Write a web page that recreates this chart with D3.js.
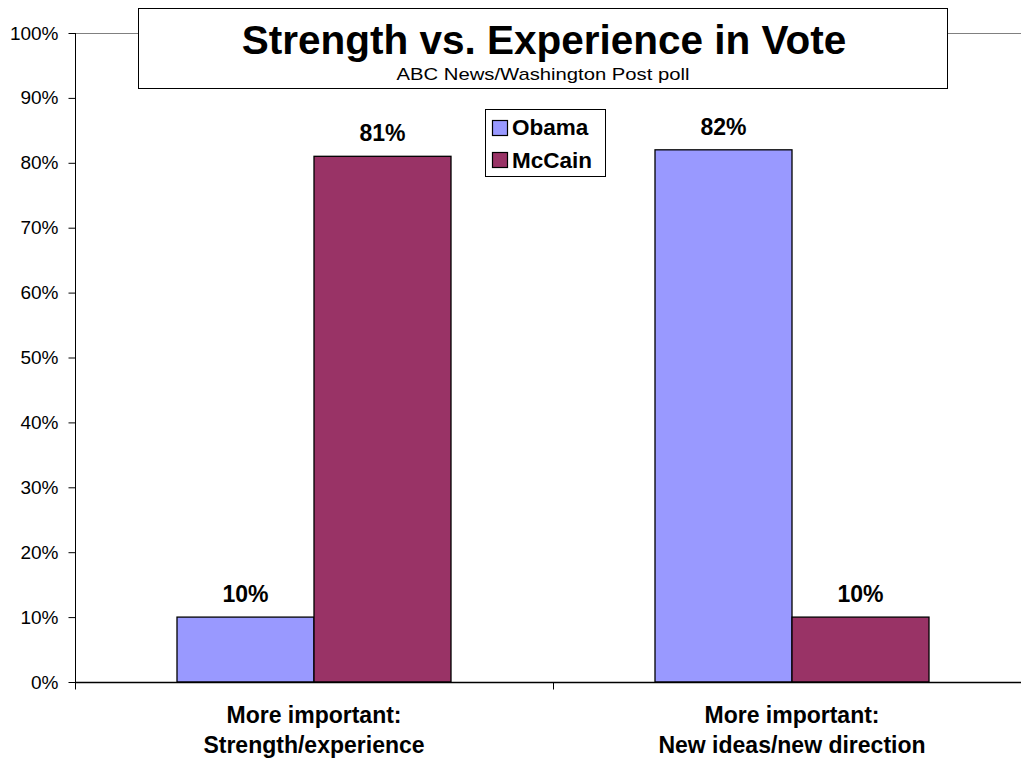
<!DOCTYPE html>
<html><head><meta charset="utf-8">
<script src="https://cdn.jsdelivr.net/npm/d3@7/dist/d3.min.js"></script>
<style>body{margin:0;background:#fff;}svg{display:block;font-family:Arial,"Liberation Sans",sans-serif;}</style>
</head><body><svg id="c" width="1021" height="759"></svg>
<script>
const categories = [["More important:", "Strength/experience"], ["More important:", "New ideas/new direction"]];
const seriesNames = ["Obama", "McCain"];
const obamaValues = [10, 82];
const mccainValues = [81, 10];
const seriesColors = ["#9999FF", "#993366"];
const yTicks = [0,10,20,30,40,50,60,70,80,90,100];
const titleText = "Strength vs. Experience in Vote";
const subtitleText = "ABC News/Washington Post poll";

(function(){
const svg = d3.select("#c");
const pL = 75, pR = 1031, pT = 33, pB = 682;
const y = d3.scaleLinear().domain([0,100]).range([pB, pT]);
const x0 = d3.scaleBand().domain(d3.range(categories.length)).range([pL, pR]).paddingInner(0).paddingOuter(0);
const barW = 137;
const series = [obamaValues, mccainValues];

// top plot border
svg.append("line").attr("x1", pL).attr("x2", 1021).attr("y1", pT+0.5).attr("y2", pT+0.5).attr("stroke", "#808080").attr("stroke-width", 1);

// bars
series.forEach((vals, si) => {
  svg.append("g").selectAll("rect").data(vals).join("rect")
    .attr("x", (d,i) => x0(i) + x0.bandwidth()/2 - barW + si*barW)
    .attr("y", d => y(d))
    .attr("width", barW)
    .attr("height", d => y(0) - y(d))
    .attr("fill", seriesColors[si])
    .attr("stroke", "#000").attr("stroke-width", 1.3);
  svg.append("g").selectAll("text").data(vals).join("text")
    .attr("x", (d,i) => x0(i) + x0.bandwidth()/2 - barW/2 + si*barW)
    .attr("y", d => y(d) - 15)
    .attr("text-anchor", "middle").attr("font-weight", "bold").attr("font-size", 23)
    .text(d => d + "%");
});

// y axis
const yAxis = d3.axisLeft(y).tickValues(yTicks).tickFormat(d => d + "%").tickSize(7).tickPadding(10);
const ga = svg.append("g").attr("transform", `translate(${pL+0.5},0)`).call(yAxis);
ga.select(".domain").attr("stroke", "#000").attr("d", `M0,${pT}V${pB}`);
ga.selectAll(".tick line").attr("stroke", "#000");
ga.selectAll(".tick text").attr("font-size", 19).attr("font-family", "Arial, 'Liberation Sans', sans-serif").attr("fill", "#000");

// x axis
const xa = svg.append("g").attr("transform", `translate(0,${pB+0.5})`);
xa.append("line").attr("x1", pL).attr("x2", 1021).attr("stroke", "#000").attr("stroke-width", 1.3);
xa.selectAll("line.t").data(d3.range(categories.length+1)).join("line").attr("class","t")
  .attr("x1", i => pL + i*x0.bandwidth() + 0.5).attr("x2", i => pL + i*x0.bandwidth() + 0.5)
  .attr("y1", 0).attr("y2", 7).attr("stroke", "#000");
categories.forEach((lines, i) => {
  const cx = x0(i) + x0.bandwidth()/2;
  const t = svg.append("text").attr("text-anchor", "middle").attr("font-weight", "bold").attr("font-size", 23)
    .attr("x", cx).attr("y", 723);
  lines.forEach((l, j) => t.append("tspan").attr("x", cx).attr("dy", j ? 30 : 0).text(l));
});

// title box
svg.append("rect").attr("x", 138.5).attr("y", 8.5).attr("width", 809).attr("height", 80).attr("fill", "#fff").attr("stroke", "#000").attr("stroke-width", 1);
svg.append("text").attr("x", 544).attr("y", 54).attr("text-anchor", "middle").attr("font-weight", "bold").attr("font-size", 40.5).text(titleText);
svg.append("text").attr("x", 543).attr("y", 80).attr("text-anchor", "middle").attr("font-size", 17)
  .attr("textLength", 293).attr("lengthAdjust", "spacingAndGlyphs").text(subtitleText);

// legend
const lg = svg.append("g");
lg.append("rect").attr("x", 485.5).attr("y", 109.5).attr("width", 120).attr("height", 67).attr("fill", "#fff").attr("stroke", "#000");
seriesNames.forEach((n, i) => {
  lg.append("rect").attr("x", 492.5).attr("y", 120.5 + i*32).attr("width", 15).attr("height", 15).attr("fill", seriesColors[i]).attr("stroke", "#000").attr("stroke-width", 1.2);
  lg.append("text").attr("x", 512).attr("y", 135 + i*33).attr("font-weight", "bold").attr("font-size", 22.5).text(n);
});
})();
</script></body></html>
